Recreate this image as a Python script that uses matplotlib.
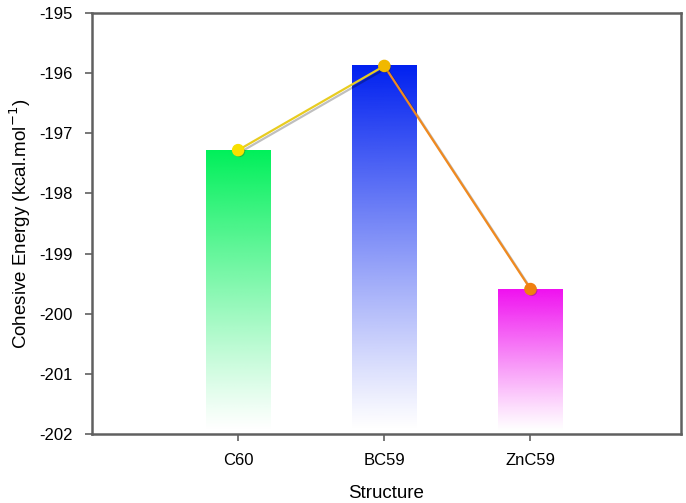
import numpy as np
import matplotlib.pyplot as plt
import matplotlib.patheffects as pe
from matplotlib.colors import to_rgb

plt.rcParams['font.family'] = ['Liberation Sans', 'DejaVu Sans']

structures = ['C60', 'BC59', 'ZnC59']
energies = [-197.28, -195.88, -199.59]
bar_colors = ['#00f05a', '#0020f0', '#f010f0']
marker_colors = ['#f8e000', '#f0b800', '#f08010']
line_colors = ['#e8cc20', '#f08a20']

ymin, ymax = -202, -195

fig = plt.figure(figsize=(6.86, 5.03), dpi=100)
ax = fig.add_axes([92/686, 1 - 434/503, 589/686, 421/503])

x = np.arange(1, len(structures) + 1)
width = 0.44

# gradient bars: full colour at top fading to white at the bottom
for xi, val, col in zip(x, energies, bar_colors):
    rgb = to_rgb(col)
    n = 256
    grad = np.zeros((n, 1, 4))
    grad[:, 0, :3] = rgb
    grad[:, 0, 3] = np.linspace(1, 0, n) ** 1.1
    ax.imshow(grad, extent=[xi - width/2, xi + width/2, ymin + 0.05, val],
              aspect='auto', origin='upper', zorder=2, interpolation='bilinear')

shadow = [pe.SimpleLineShadow(offset=(1.5, -1.5), alpha=0.25), pe.Normal()]
for i in range(len(x) - 1):
    ax.plot(x[i:i+2], energies[i:i+2], color=line_colors[i], lw=1.6, zorder=3,
            path_effects=shadow)
for xi, val, mc in zip(x, energies, marker_colors):
    ax.plot(xi, val, 'o', ms=8, color=mc, mec=mc, zorder=4,
            path_effects=[pe.SimplePatchShadow(offset=(1, -1), alpha=0.3), pe.Normal()])

ax.set_xlim(0, 4.03)
ax.set_ylim(ymin, ymax)
ax.set_xticks(x)
ax.set_xticklabels(structures)
ax.set_yticks(np.arange(ymin, ymax + 1, 1))
ax.set_yticklabels([str(v) for v in range(ymin, ymax + 1)])

for s in ax.spines.values():
    s.set_color('#606060')
    s.set_linewidth(1.8)
ax.tick_params(direction='out', length=5, width=1.2, color='#606060',
               labelsize=12, pad=9)

ax.set_xlabel('Structure', fontsize=13.5, labelpad=12)
ax.set_ylabel('Cohesive Energy (kcal.mol$^{-1}$)', fontsize=13.5, labelpad=4)

fig.savefig('out.png', dpi=100)
